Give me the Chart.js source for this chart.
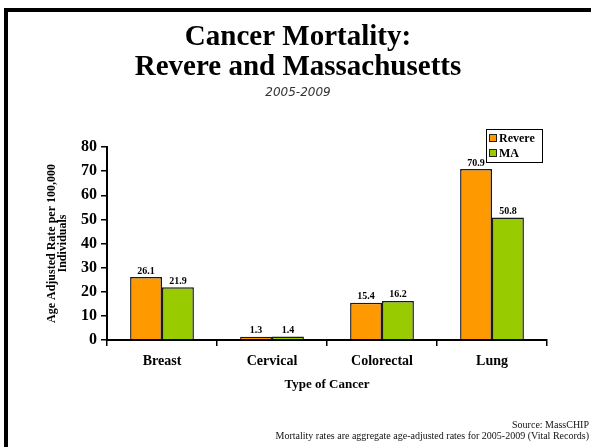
<!DOCTYPE html>
<html>
<head>
<meta charset="utf-8">
<title>Cancer Mortality: Revere and Massachusetts</title>
<script src="https://cdn.jsdelivr.net/npm/chart.js@4.4.1/dist/chart.umd.min.js"></script>
<style>
  html, body { margin: 0; padding: 0; background: #fff; }
  #wrap { position: relative; width: 591px; height: 447px; }
</style>
</head>
<body>
<div id="wrap"><canvas id="chart" width="591" height="447"></canvas></div>
<script>
// Cancer types on the x axis
const cancerTypes = ['Breast', 'Cervical', 'Colorectal', 'Lung'];
// Age-adjusted mortality per 100,000, 2005-2009
const revereRates = [26.1, 1.3, 15.4, 70.9];
const maRates = [21.9, 1.4, 16.2, 50.8];
const seriesNames = ['Revere', 'MA'];
const yTicks = [0, 10, 20, 30, 40, 50, 60, 70, 80];

const SERIF = '"Liberation Serif", "Times New Roman", serif';
const colors = { revere: '#FF9900', ma: '#99CC00', edge: '#1a1a1a' };

// Slide frame, headings, footnotes, value labels and boxed legend
const decorations = {
  id: 'decorations',
  beforeDraw(chart) {
    const ctx = chart.ctx;
    ctx.save();
    ctx.fillStyle = '#fff';
    ctx.fillRect(0, 0, chart.width, chart.height);
    // frame (left and top rules)
    ctx.fillStyle = '#000';
    ctx.fillRect(4, 8, 4, chart.height - 8);
    ctx.fillRect(4, 8, chart.width - 4, 4);
    // headings
    ctx.textAlign = 'center';
    ctx.textBaseline = 'alphabetic';
    ctx.font = 'bold 29px ' + SERIF;
    ctx.fillText('Cancer Mortality:', 298, 45);
    ctx.fillText('Revere and Massachusetts', 298, 75);
    ctx.fillStyle = '#333';
    ctx.font = 'italic 12px "DejaVu Sans", sans-serif';
    ctx.fillText('2005-2009', 298, 96);
    // footnotes
    ctx.fillStyle = '#111';
    ctx.textAlign = 'right';
    ctx.textBaseline = 'middle';
    ctx.font = '10px ' + SERIF;
    ctx.fillText('Source: MassCHIP', 589, 425);
    ctx.fillText('Mortality rates are aggregate age-adjusted rates for 2005-2009 (Vital Records)', 589, 436);
    ctx.restore();
  },
  afterDatasetsDraw(chart) {
    const ctx = chart.ctx;
    ctx.save();
    ctx.fillStyle = '#000';
    ctx.font = 'bold 10px ' + SERIF;
    ctx.textAlign = 'center';
    ctx.textBaseline = 'bottom';
    chart.data.datasets.forEach((ds, i) => {
      chart.getDatasetMeta(i).data.forEach((bar, j) => {
        ctx.fillText(ds.data[j].toFixed(1), bar.x, bar.y - 1);
      });
    });
    // legend box
    const lx = 486, ly = 129, lw = 56, lh = 33;
    ctx.fillStyle = '#fff';
    ctx.fillRect(lx, ly, lw, lh);
    ctx.strokeStyle = '#000';
    ctx.lineWidth = 1;
    ctx.strokeRect(lx + 0.5, ly + 0.5, lw, lh);
    ctx.font = 'bold 12px ' + SERIF;
    ctx.textAlign = 'left';
    ctx.textBaseline = 'middle';
    chart.data.datasets.forEach((ds, i) => {
      const cy = ly + 9 + i * 15;
      ctx.fillStyle = ds.backgroundColor;
      ctx.fillRect(lx + 3, cy - 4, 8, 8);
      ctx.strokeStyle = '#222';
      ctx.strokeRect(lx + 3.5, cy - 3.5, 7, 7);
      ctx.fillStyle = '#000';
      ctx.fillText(ds.label, lx + 13, cy + 1);
    });
    ctx.restore();
  }
};

new Chart(document.getElementById('chart'), {
  type: 'bar',
  data: {
    labels: cancerTypes,
    datasets: [
      { label: seriesNames[0], data: revereRates, backgroundColor: colors.revere,
        borderColor: colors.edge, borderWidth: 1.5 },
      { label: seriesNames[1], data: maRates, backgroundColor: colors.ma,
        borderColor: colors.edge, borderWidth: 1.5 }
    ]
  },
  options: {
    responsive: false,
    animation: false,
    devicePixelRatio: 1,
    categoryPercentage: 0.58,
    barPercentage: 1.0,
    layout: { padding: { left: 46, right: 44, top: 147, bottom: 55 } },
    plugins: {
      legend: { display: false },
      title: { display: false },
      tooltip: { enabled: false }
    },
    scales: {
      x: {
        offset: true,
        grid: { offset: true, drawOnChartArea: false, drawTicks: true, tickLength: 6, color: '#000', lineWidth: 1.5 },
        border: { display: true, color: '#000', width: 2 },
        ticks: { color: '#000', padding: 7, font: { family: SERIF, size: 14, weight: 'bold' } },
        title: { display: true, text: 'Type of Cancer', color: '#000', padding: 0,
                 font: { family: SERIF, size: 13, weight: 'bold' } },
        afterFit(scale) { scale.height = 52; }
      },
      y: {
        min: 0,
        max: 80,
        afterBuildTicks(scale) { scale.ticks = yTicks.map(v => ({ value: v })); },
        grid: { drawOnChartArea: false, drawTicks: true, tickLength: 6, color: '#000', lineWidth: 1.5 },
        border: { display: true, color: '#000', width: 2 },
        ticks: { color: '#000', padding: 4, font: { family: SERIF, size: 16, weight: 'bold' } },
        title: { display: true, text: ['Age Adjusted Rate per 100,000', 'Individuals'], color: '#000',
                 padding: 0, font: { family: SERIF, size: 12, weight: 'bold', lineHeight: 0.95 } },
        afterFit(scale) { scale.width = 61; }
      }
    }
  },
  plugins: [decorations]
});
</script>
</body>
</html>
